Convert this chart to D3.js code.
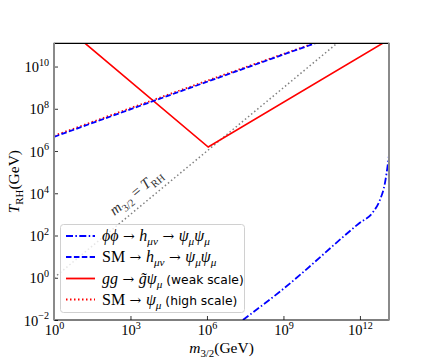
<!DOCTYPE html>
<html>
<head>
<meta charset="utf-8">
<script src="https://cdn.jsdelivr.net/npm/d3@7"></script>
<style>
  body { margin: 0; background: #fff; }
</style>
</head>
<body>
<svg id="chart"></svg>
<script>
// values, as log10 exponents
const xDomainExp = [0, 13.14];
const yDomainExp = [-2, 11.1];
const xTickExp = [0, 3, 6, 9, 12];
const yTickExp = [-2, 0, 2, 4, 6, 8, 10];

// phi phi -> h -> psi psi (dash-dot)
const phiMExp = [7.41, 8.94, 11.96, 12.52, 12.78, 12.98, 13.10, 13.14];
const phiTExp = [-2.0, -0.58, 2.57, 3.12, 3.67, 4.48, 5.42, 5.8];
// SM -> h -> psi psi (dashed)
const smHMExp = [0, 5.73, 10.24];
const smHTExp = [6.67, 9.16, 11.1];
// SM -> psi (high scale), dotted red, sits right on the dashed blue
const smPsiMExp = [0, 5.73, 10.2];
const smPsiTExp = [6.72, 9.21, 11.1];
// gg -> gluino psi (weak scale), solid red
const ggMExp = [1.22, 6.05, 12.89];
const ggTExp = [11.1, 6.19, 11.1];
// m3/2 = T_RH diagonal
const diagExp = [0, 11.1];

const width = 432, height = 360;
const margin = { top: 43.3, right: 43, bottom: 40, left: 54 };
const serif = "'Liberation Serif', 'DejaVu Serif', serif";
const sans = "'DejaVu Sans', sans-serif";

const svg = d3.select("#chart").attr("width", width).attr("height", height);

const x = d3.scaleLog()
    .domain(xDomainExp.map(e => 10 ** e))
    .range([margin.left, width - margin.right]);
const y = d3.scaleLog()
    .domain(yDomainExp.map(e => 10 ** e))
    .range([height - margin.bottom, margin.top]);

// writes a little math string into a text element
function addMath(textSel, parts, fs) {
    let shift = 0;
    parts.forEach(p => {
        const ts = textSel.append("tspan").text(p.t);
        let target = 0, size = fs;
        if (p.sub) { target = fs * 0.28; size = fs * 0.7; }
        if (p.sup) { target = -fs * 0.42; size = fs * 0.7; }
        if (p.sans) size = 12.3;
        ts.attr("dy", target - shift).attr("font-size", size);
        shift = target;
        if (p.it) ts.attr("font-style", "italic");
        if (p.sans) ts.attr("font-family", sans);
        if (p.arrow) ts.attr("font-family", "'DejaVu Serif', serif").attr("font-size", fs * 0.88);
    });
}

svg.append("defs").append("clipPath").attr("id", "clip")
    .append("rect")
    .attr("x", margin.left).attr("y", margin.top)
    .attr("width", width - margin.left - margin.right)
    .attr("height", height - margin.top - margin.bottom);

const plot = svg.append("g").attr("clip-path", "url(#clip)");

const line = d3.line()
    .x(d => x(10 ** d[0]))
    .y(d => y(10 ** d[1]))
    .curve(d3.curveMonotoneX);

// diagonal
plot.append("path")
    .datum(diagExp.map(e => [e, e]))
    .attr("d", line)
    .attr("fill", "none")
    .attr("stroke", "#808080")
    .attr("stroke-width", 1.5)
    .attr("stroke-dasharray", "1.5,2.5");

// red solid
plot.append("path")
    .datum(d3.zip(ggMExp, ggTExp))
    .attr("d", d3.line().x(d => x(10 ** d[0])).y(d => y(10 ** d[1])))
    .attr("fill", "none")
    .attr("stroke", "#ff0000")
    .attr("stroke-width", 1.6);

// red dotted
plot.append("path")
    .datum(d3.zip(smPsiMExp, smPsiTExp))
    .attr("d", line)
    .attr("fill", "none")
    .attr("stroke", "#ff0000")
    .attr("stroke-width", 1.8)
    .attr("stroke-dasharray", "1.5,2.5");

// blue dashed
plot.append("path")
    .datum(d3.zip(smHMExp, smHTExp))
    .attr("d", line)
    .attr("fill", "none")
    .attr("stroke", "#0000ff")
    .attr("stroke-width", 1.8)
    .attr("stroke-dasharray", "5.5,2.4");

// blue dash-dot
plot.append("path")
    .datum(d3.zip(phiMExp, phiTExp))
    .attr("d", line)
    .attr("fill", "none")
    .attr("stroke", "#0000ff")
    .attr("stroke-width", 1.8)
    .attr("stroke-dasharray", "7,2.4,1.5,2.4");

// diagonal label
const angle = Math.atan2(y(1e4) - y(1), x(1e4) - x(1)) * 180 / Math.PI;
const lx = x(10 ** 3.55), ly = y(10 ** 3.55);
const diagLabel = svg.append("text")
    .attr("transform", `translate(${lx},${ly}) rotate(${angle}) translate(0,-9)`)
    .attr("text-anchor", "middle")
    .attr("font-family", serif)
    .attr("fill", "#333");
addMath(diagLabel, [
    { t: "m", it: true }, { t: "3/2", sub: true },
    { t: " = " }, { t: "T", it: true }, { t: "RH", sub: true }
], 15);

// axes with inward ticks
const xAxis = svg.append("g")
    .attr("transform", `translate(0,${height - margin.bottom})`)
    .call(d3.axisBottom(x).tickValues(xTickExp.map(e => 10 ** e)).tickSize(-4).tickPadding(5).tickFormat(""));
const yAxis = svg.append("g")
    .attr("transform", `translate(${margin.left},0)`)
    .call(d3.axisLeft(y).tickValues(yTickExp.map(e => 10 ** e)).tickSize(-4).tickPadding(6).tickFormat(""));
[xAxis, yAxis].forEach(a => {
    a.select(".domain").remove();
    a.selectAll(".tick line").attr("stroke", "#000").attr("stroke-width", 0.8);
});

xAxis.selectAll(".tick").each(function (d) {
    const t = d3.select(this).select("text")
        .attr("y", 15).attr("dy", null)
        .attr("font-family", serif).attr("fill", "#000");
    addMath(t, [{ t: "10" }, { t: String(Math.round(Math.log10(d))).replace("-", "\u2212"), sup: true }], 14.5);
});
yAxis.selectAll(".tick").each(function (d) {
    const t = d3.select(this).select("text")
        .attr("dy", null).attr("y", 5).attr("x", -5)
        .attr("font-family", serif).attr("fill", "#000");
    addMath(t, [{ t: "10" }, { t: String(Math.round(Math.log10(d))).replace("-", "\u2212"), sup: true }], 14.5);
});

// spines
const [x0, x1] = x.range(), [y0, y1] = y.range();
svg.append("line").attr("x1", x0).attr("x2", x1).attr("y1", y0).attr("y2", y0).attr("stroke", "#000").attr("stroke-width", 1.2);
svg.append("line").attr("x1", x0).attr("x2", x1).attr("y1", y1).attr("y2", y1).attr("stroke", "#000").attr("stroke-width", 1.2);
svg.append("line").attr("x1", x0).attr("x2", x0).attr("y1", y0 + 0.6).attr("y2", y1 - 0.6).attr("stroke", "#8a8a8a").attr("stroke-width", 2);
svg.append("line").attr("x1", x1).attr("x2", x1).attr("y1", y0 + 0.6).attr("y2", y1 - 0.6).attr("stroke", "#8a8a8a").attr("stroke-width", 2);

// axis labels
const xLabel = svg.append("text")
    .attr("x", (x0 + x1) / 2).attr("y", 353)
    .attr("text-anchor", "middle").attr("font-family", serif);
addMath(xLabel, [{ t: "m", it: true }, { t: "3/2", sub: true }, { t: "(GeV)" }], 15.5);

const yLabel = svg.append("text")
    .attr("transform", `translate(19,${(y0 + y1) / 2}) rotate(-90)`)
    .attr("text-anchor", "middle").attr("font-family", serif);
addMath(yLabel, [{ t: "T", it: true }, { t: "RH", sub: true }, { t: "(GeV)" }], 15.5);

// legend
const legend = svg.append("g");
legend.append("rect")
    .attr("x", 60.5).attr("y", 224.5).attr("width", 184).attr("height", 88)
    .attr("rx", 3)
    .attr("fill", "#fff").attr("fill-opacity", 0.8)
    .attr("stroke", "#d0d0d0").attr("stroke-width", 1);

const arrow = { t: " \u2192 ", arrow: true };
const legendItems = [
    { color: "#0000ff", dash: "7,2.4,1.5,2.4", parts: [
        { t: "\u03d5\u03d5", it: true }, arrow, { t: "h", it: true }, { t: "\u03bc\u03bd", sub: true, it: true },
        arrow, { t: "\u03c8", it: true }, { t: "\u03bc", sub: true, it: true }, { t: "\u03c8", it: true }, { t: "\u03bc", sub: true, it: true }] },
    { color: "#0000ff", dash: "5.5,2.4", parts: [
        { t: "SM" }, arrow, { t: "h", it: true }, { t: "\u03bc\u03bd", sub: true, it: true },
        arrow, { t: "\u03c8", it: true }, { t: "\u03bc", sub: true, it: true }, { t: "\u03c8", it: true }, { t: "\u03bc", sub: true, it: true }] },
    { color: "#ff0000", dash: null, parts: [
        { t: "gg", it: true }, arrow, { t: "g\u0303", it: true }, { t: "\u03c8", it: true }, { t: "\u03bc", sub: true, it: true },
        { t: " (weak scale)", sans: true }] },
    { color: "#ff0000", dash: "1.5,2.5", parts: [
        { t: "SM" }, arrow, { t: "\u03c8", it: true }, { t: "\u03bc", sub: true, it: true },
        { t: " (high scale)", sans: true }] }
];
const legendRowY = [236, 257, 278.5, 299.5];

legendItems.forEach((item, i) => {
    const ry = legendRowY[i];
    legend.append("line")
        .attr("x1", 66).attr("x2", 95).attr("y1", ry).attr("y2", ry)
        .attr("stroke", item.color).attr("stroke-width", 1.8)
        .attr("stroke-dasharray", item.dash);
    const t = legend.append("text")
        .attr("x", 102).attr("y", ry + 5)
        .attr("font-family", serif).attr("fill", "#000");
    addMath(t, item.parts, 16);
});
</script>
</body>
</html>
